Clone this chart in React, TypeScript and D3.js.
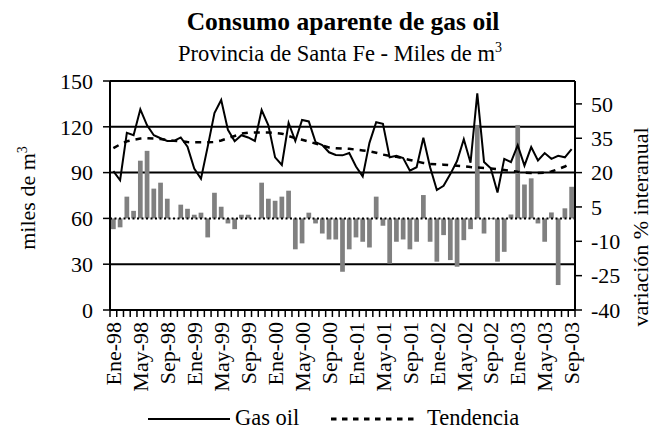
import React from "react";
import * as d3 from "d3";

const monthNames = ["Ene","Feb","Mar","Abr","May","Jun","Jul","Ago","Sep","Oct","Nov","Dic"];
const years = ["98","99","00","01","02","03"];
const months: string[] = [];
years.forEach((y) => monthNames.forEach((m) => months.push(`${m}-${y}`)));
const categories = months.slice(0, 69); // Ene-98 .. Sep-03

const gasOil = [
  91, 85, 116, 114.5, 131.5, 121, 114.5, 112.5, 110.7, 110.7, 113, 107,
  92.7, 86, 107, 129, 137.6, 118, 110.5, 114.5, 113, 110.7, 131, 121,
  100, 95, 122.5, 110.7, 124.5, 123.5, 110, 108, 103.3, 101.5, 101.3, 102.8,
  94, 87.5, 109.5, 123, 122, 100, 101, 99.5, 91.3, 93.5, 112.8, 93.5,
  78.6, 81.4, 89, 97.6, 111.8, 96.5, 141.9, 97, 92.8, 77, 99, 96.8,
  108, 94.6, 106.7, 97.9, 102.8, 99, 101, 100, 105.4,
];

const tendencia = [
  106, 108.5, 110.5, 111.5, 112.3, 112.5, 112.3, 112, 111.3, 110.8, 110.5, 110,
  109.8, 109.8, 109.8, 110, 111, 112.5, 114, 115.5, 116.2, 116.3, 116.3, 116.3,
  116, 115.5, 114, 112.5, 111.5, 110.3, 109, 107.7, 106.5, 106, 105.8, 105.6,
  105, 104.5, 104, 103, 101.8, 101, 100.3, 99.3, 98.3, 97.3, 96.3, 95.7,
  95.4, 95.2, 94.8, 94.5, 94.2, 93.6, 93.3, 93, 92.7, 92.2, 91.7, 91.2,
  90.5, 90, 89.7, 89.7, 90, 90.7, 92.3, 94, 96.3,
];

const variacion = [
  -4.7, -3.9, 9.5, 3.3, 25.2, 29.5, 13.0, 15.6, 8.6, 0.2, 6.0, 4.2,
  1.6, 2.5, -8.3, 11.2, 5.1, -2.2, -4.7, 1.6, 1.6, 0.1, 15.6, 8.6,
  7.7, 9.5, 12.1, -13.5, -10.9, 2.5, -2.2, -6.6, -9.2, -9.2, -23.3, -13.5,
  -8.3, -10.2, -12.7, 9.5, -3.2, -19.7, -10.2, -9.2, -13.5, -10.2, 10.2, -10.2,
  -18.9, -7.3, -18.2, -21.1, -9.5, -4.7, 40.8, -6.6, -0.3, -18.9, -14.6, 1.7,
  40.8, 14.8, 17.5, -2.2, -10.2, 2.6, -29.1, 4.4, 13.8,
];

const tickLabels = [
  "Ene-98","May-98","Sep-98","Ene-99","May-99","Sep-99","Ene-00","May-00","Sep-00",
  "Ene-01","May-01","Sep-01","Ene-02","May-02","Sep-02","Ene-03","May-03","Sep-03",
];
const leftTicks = [0, 30, 60, 90, 120, 150];
const rightTicks = [-40, -25, -10, 5, 20, 35, 50];
const gridValues = [30, 90, 120, 150];

const FONT = '"Liberation Serif", "Times New Roman", Times, serif';

export default function App() {
  const W = 655, H = 430;
  const L = 110, R = 575, T = 81, B = 310;

  const x = d3.scaleBand<string>().domain(categories).range([L, R]).paddingInner(0.3).paddingOuter(0.15);
  const step = x.step();
  const cx = (c: string) => (x(c) as number) + x.bandwidth() / 2;
  const yL = d3.scaleLinear().domain([0, 150]).range([B, T]);
  const yR = d3.scaleLinear().domain([-40, 60]).range([B, T]);

  const line = d3.line<number>().x((_, i) => cx(categories[i])).y((d) => yL(d));
  const ts = { fontFamily: FONT } as React.CSSProperties;

  return (
    <svg width={W} height={H} style={{ position: "absolute", left: 0, top: 0, background: "#fff", fontFamily: FONT }}>
      <rect x={0} y={0} width={W} height={H} fill="#fff" />
      {/* titles */}
      <text style={ts} x={343} y={30} textAnchor="middle" fontSize={25.5} fontWeight="bold">Consumo aparente de gas oil</text>
      <text style={ts} x={340} y={61} textAnchor="middle" fontSize={22.5}>
        Provincia de Santa Fe - Miles de m<tspan dy={-9} fontSize={14}>3</tspan>
      </text>

      {/* gridlines */}
      {gridValues.map((v) => (
        <line key={v} x1={L} x2={R} y1={yL(v)} y2={yL(v)} stroke="#000" strokeWidth={2} />
      ))}

      {/* bars */}
      {variacion.map((v, i) => {
        const y0 = yR(0), y1 = yR(v);
        return (
          <rect key={i} x={x(categories[i])} width={x.bandwidth()} y={Math.min(y0, y1)} height={Math.abs(y1 - y0)} fill="#808080" />
        );
      })}
      {/* zero line of secondary axis */}
      <line x1={L} x2={R} y1={yR(0)} y2={yR(0)} stroke="#000" strokeWidth={2} strokeDasharray="2,2.5" />

      {/* trend */}
      <path d={line(tendencia) || ""} fill="none" stroke="#000" strokeWidth={2.5} strokeDasharray="6,6" />
      {/* gas oil */}
      <path d={line(gasOil) || ""} fill="none" stroke="#000" strokeWidth={2} strokeLinejoin="miter" />

      {/* axes */}
      <line x1={L} x2={L} y1={T} y2={B} stroke="#000" strokeWidth={2} />
      <line x1={R} x2={R} y1={T} y2={B} stroke="#000" strokeWidth={2} />
      <line x1={L} x2={R} y1={B} y2={B} stroke="#000" strokeWidth={2} />

      {leftTicks.map((v) => (
        <g key={v}>
          <line x1={L - 7} x2={L} y1={yL(v)} y2={yL(v)} stroke="#000" strokeWidth={1.5} />
          <text style={ts} x={93} y={yL(v)} dy="0.35em" textAnchor="end" fontSize={22}>{v}</text>
        </g>
      ))}
      {rightTicks.map((v) => (
        <g key={v}>
          <line x1={R} x2={R + 7} y1={yR(v)} y2={yR(v)} stroke="#000" strokeWidth={1.5} />
          <text style={ts} x={591} y={yR(v)} dy="0.35em" textAnchor="start" fontSize={22}>{v}</text>
        </g>
      ))}

      {/* x ticks at category boundaries */}
      {d3.range(categories.length + 1).map((i) => {
        const xx = L + i * step;
        return <line key={i} x1={xx} x2={xx} y1={B} y2={B + 7} stroke="#000" strokeWidth={1.5} />;
      })}
      {tickLabels.map((t) => (
        <text style={ts} key={t} transform={`translate(${cx(t)},${B + 12}) rotate(-90)`} dy="0.35em" textAnchor="end" fontSize={22}>{t}</text>
      ))}

      {/* axis titles */}
      <text style={ts} transform={`translate(35,198) rotate(-90)`} textAnchor="middle" fontSize={22}>
        miles de m<tspan dy={-8} fontSize={14}>3</tspan>
      </text>
      <text style={ts} transform={`translate(648,227) rotate(-90)`} textAnchor="middle" fontSize={22}>variación % interanual</text>

      {/* legend */}
      <line x1={148} x2={230} y1={419} y2={419} stroke="#000" strokeWidth={2} />
      <text style={ts} x={235} y={425} fontSize={22.5}>Gas oil</text>
      <line x1={331} x2={418} y1={419} y2={419} stroke="#000" strokeWidth={3} strokeDasharray="5.5,5.5" />
      <text style={ts} x={427} y={425} fontSize={22.5}>Tendencia</text>
    </svg>
  );
}
